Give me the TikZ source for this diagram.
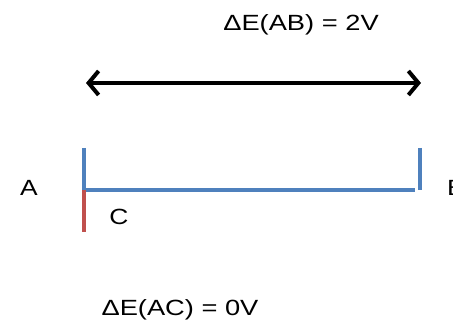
\documentclass[tikz,border=0pt]{standalone}
\usepackage{fontspec}
\setmainfont{Liberation Sans}
\usetikzlibrary{arrows.meta}
\definecolor{lineblue}{HTML}{4F81BD}
\definecolor{linered}{HTML}{C0504D}
\tikzset{
  lbl/.style={inner sep=0pt, font=\fontsize{22}{26}\selectfont},
  blueline/.style={draw=lineblue, line width=4pt},
  redline/.style={draw=linered, line width=4pt},
  dblarrow/.style={line width=4pt, {Straight Barb[length=10pt,width=24pt]}-{Straight Barb[length=10pt,width=24pt]}}
}
\begin{document}
\begin{tikzpicture}[x=1pt,y=-1pt]
\useasboundingbox (0,0) rectangle (453,328);
\node[lbl] (tab) at (301,25) {\scalebox{1.24}[1]{ΔE(AB) = 2V}};
\coordinate (la) at (86,83);
\coordinate (ra) at (421,83);
\draw[dblarrow] (la) -- (ra);
\coordinate (a1) at (84,148);
\coordinate (a2) at (84,190);
\coordinate (b1) at (420,148);
\coordinate (b2) at (420,190);
\coordinate (c2) at (84,232);
\draw[blueline] (a1) -- (a2) -- (b2 -| 415,0) ;
\draw[blueline] (b1) -- (b2);
\draw[redline] (a2) -- (c2);
\node[lbl] (A) at (29,188) {\scalebox{1.2}[1]{A}};
\node[lbl] (C) at (119,217) {\scalebox{1.2}[1]{C}};
\node[lbl, anchor=west] (B) at (447,188) {\scalebox{1.2}[1]{B}};
\node[lbl] (tac) at (180,310) {\scalebox{1.24}[1]{ΔE(AC) = 0V}};
\end{tikzpicture}
\end{document}
